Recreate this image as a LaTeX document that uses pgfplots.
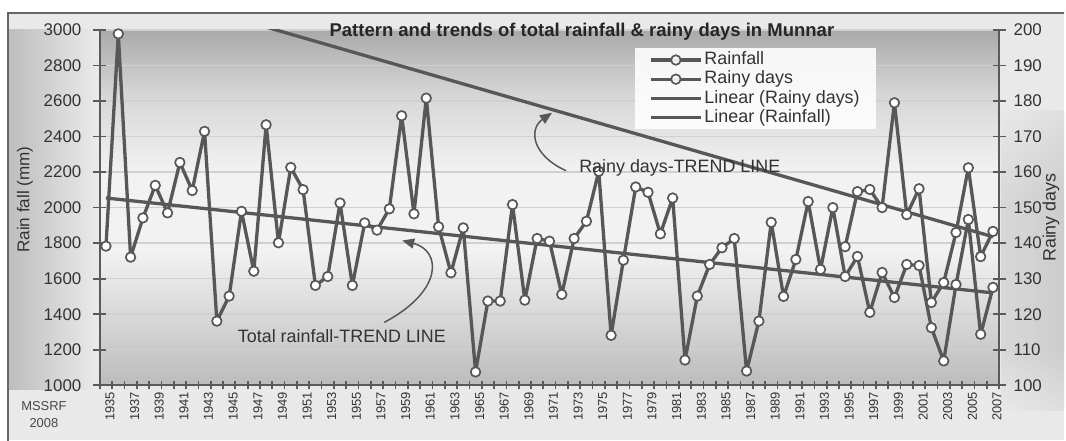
\documentclass[border=0pt]{standalone}
\usepackage{pgfplots}
\usepackage{pgfplotstable}
\pgfplotsset{compat=1.18}
\usepackage{fontspec}
\setmainfont{Liberation Sans}
\usetikzlibrary{arrows.meta}

\definecolor{ser}{HTML}{575757}
\definecolor{axc}{HTML}{5A5A5A}
\definecolor{gridc}{HTML}{D0D0D0}
\definecolor{outerbg}{HTML}{E9E9E9}
\definecolor{leftdark}{HTML}{BEBEBE}
\definecolor{txt}{HTML}{333333}
\definecolor{bordc}{HTML}{666666}
\definecolor{ptop}{HTML}{A9A9A9}
\definecolor{pmid}{HTML}{D6D6D6}
\definecolor{plight}{HTML}{F2F2F2}
\definecolor{pbot}{HTML}{BCBCBC}

\pgfdeclareverticalshading{plotbg}{100bp}{color(0bp)=(pbot); color(25bp)=(pbot); color(44bp)=(plight); color(55bp)=(plight); color(66bp)=(pmid); color(75bp)=(ptop); color(100bp)=(ptop)}
\pgfdeclareverticalshading{rightbg}{100bp}{color(0bp)=(outerbg); color(25bp)=(outerbg); color(35bp)=(leftdark); color(60bp)=(leftdark); color(75bp)=(outerbg); color(100bp)=(outerbg)}

\pgfplotstableread{
year rain
1935 1783
1936 2978
1937 1721
1938 1942
1939 2125
1940 1970
1941 2254
1942 2096
1943 2429
1944 1361
1945 1502
1946 1979
1947 1642
1948 2466
1949 1802
1950 2226
1951 2101
1952 1562
1953 1612
1954 2026
1955 1562
1956 1914
1957 1873
1958 1993
1959 2517
1960 1965
1961 2616
1962 1892
1963 1633
1964 1886
1965 1075
1966 1474
1967 1474
1968 2017
1969 1479
1970 1826
1971 1811
1972 1511
1973 1826
1974 1923
1975 2204
1976 1281
1977 1704
1978 2116
1979 2086
1980 1852
1981 2054
1982 1142
1983 1502
1984 1680
1985 1774
1986 1826
1987 1080
1988 1361
1989 1917
1990 1500
1991 1708
1992 2034
1993 1652
1994 2000
1995 1612
1996 1725
1997 1410
1998 1635
1999 1494
2000 1680
2001 1674
2002 1324
2003 1137
2004 1567
2005 1933
2006 1287
2007 1551
}\rainfall

\pgfplotstableread{
year days
1995 139.0
1996 154.5
1997 155.1
1998 150.0
1999 179.5
2000 148.0
2001 155.3
2002 123.3
2003 128.9
2004 143.0
2005 161.2
2006 136.2
2007 143.3
}\rainydays

\pgfplotsset{
  series/.style={color=ser, line width=1.65bp, line join=round, mark=*, mark size=2.4bp,
    mark options={fill=white, draw=ser, line width=0.85bp, solid}},
  trend/.style={color=ser, line width=1.65bp, no marks},
  base/.style={
    at={(50bp,27.5bp)}, anchor=south west,
    width=450.5bp, height=178bp, scale only axis,
    xmin=1934.5, xmax=2007.5,
    axis line style={draw=axc, line width=1.1bp},
    tick style={draw=axc, line width=0.85bp},
    tick align=center,
    major tick length=6.5bp, minor tick length=4bp,
    /pgf/number format/1000 sep={},
    /pgf/number format/assume math mode=true,
    tick label style={text=txt},
  }
}

\begin{document}
\begin{tikzpicture}
\begin{scope}[x=0.5bp,y=0.5bp]
\clip (0,0) rectangle (1066,441);
\fill[white] (0,0) rectangle (1066,441);
\fill[outerbg] (8,0) rectangle (1066,428);
\shade[left color=leftdark, right color=outerbg] (9,51) rectangle (96,411);
\shade[shading=rightbg] (1003,30) rectangle (1066,330);
\shade[left color=outerbg, right color=outerbg!60!leftdark, opacity=0.6] (1003,30) rectangle (1066,330);
\shade[shading=plotbg] (100,55) rectangle (1001,411);
\draw[bordc, line width=1bp] (8,-5) -- (8,428) -- (1070,428);
\end{scope}

\begin{axis}[base,
  ymin=1000, ymax=3000,
  axis x line*=bottom, axis y line*=left,
  xtick={1935,1937,...,2007},
  minor xtick={1934.5,1935.5,...,2007.6},
  major x tick style={draw=none},
  xticklabel style={font=\fontsize{6.5}{6.5}\selectfont, rotate=90, anchor=east, inner sep=0pt, yshift=-2bp},
  ytick={1000,1200,...,3000},
  yticklabel style={font=\fontsize{8.5}{8.5}\selectfont, xshift=-2.5bp},
  ymajorgrids, grid style={draw=gridc, line width=0.75bp},
]
\addplot[series] table[x=year, y=rain] {\rainfall};
\addplot[trend] coordinates {(1935,2054) (2007,1520)};
\end{axis}

\begin{axis}[base,
  ymin=100, ymax=200,
  axis x line=none, axis y line*=right,
  ytick={100,110,...,200},
  yticklabel style={font=\fontsize{8.5}{8.5}\selectfont, xshift=0.5bp},
  legend image code/.code={\draw[mark repeat=2,mark phase=2] plot coordinates {(0bp,0bp) (12.5bp,0bp) (25bp,0bp)};},
  legend style={at={(0.595,0.949)}, anchor=north west, draw=none,
    fill=white, fill opacity=0.88, text opacity=1,
    font=\fontsize{9}{9}\selectfont, text=txt, inner xsep=7bp, inner ysep=1bp,
    row sep=0pt,
    nodes={inner xsep=1bp, inner ysep=0.2bp, text height=7bp, text depth=2.2bp}},
  legend cell align=left,
]
\addlegendimage{series}
\addlegendentry{Rainfall}
\addplot[series] table[x=year, y=days] {\rainydays};
\addlegendentry{Rainy days}
\addplot[trend] coordinates {(1935,213.8) (2007,141.8)};
\addlegendentry{Linear (Rainy days)}
\addlegendimage{trend}
\addlegendentry{Linear (Rainfall)}
\end{axis}

\begin{scope}[x=0.5bp,y=0.5bp]
\node[font=\bfseries\fontsize{9.3}{9.3}\selectfont, text=black!85] at (583,409) {Pattern and trends of total rainfall \& rainy days in Munnar};
\node[font=\fontsize{9}{9}\selectfont, text=txt, anchor=base west, inner sep=0pt] at (580,268) {Rainy days-TREND LINE};
\node[font=\fontsize{9}{9}\selectfont, text=txt, anchor=base west, inner sep=0pt] at (238,98) {Total rainfall-TREND LINE};
\draw[ser, line width=0.75bp, -{Triangle[length=6bp,width=5bp]}] (567,270) .. controls (532,286) and (530,312) .. (553,328);
\draw[ser, line width=0.75bp, -{Triangle[length=6bp,width=5bp]}] (385,118) .. controls (445,150) and (442,190) .. (403,200);
\node[font=\fontsize{8.6}{8.6}\selectfont, text=txt, rotate=90] at (25,241) {Rain fall (mm)};
\node[font=\fontsize{9}{9}\selectfont, text=txt, rotate=90] at (1053,223) {Rainy days};
\node[font=\fontsize{6.5}{6.5}\selectfont, text=txt!90!white] at (44,34) {MSSRF};
\node[font=\fontsize{6.5}{6.5}\selectfont, text=txt!90!white] at (44,17) {2008};
\end{scope}
\end{tikzpicture}
\end{document}
